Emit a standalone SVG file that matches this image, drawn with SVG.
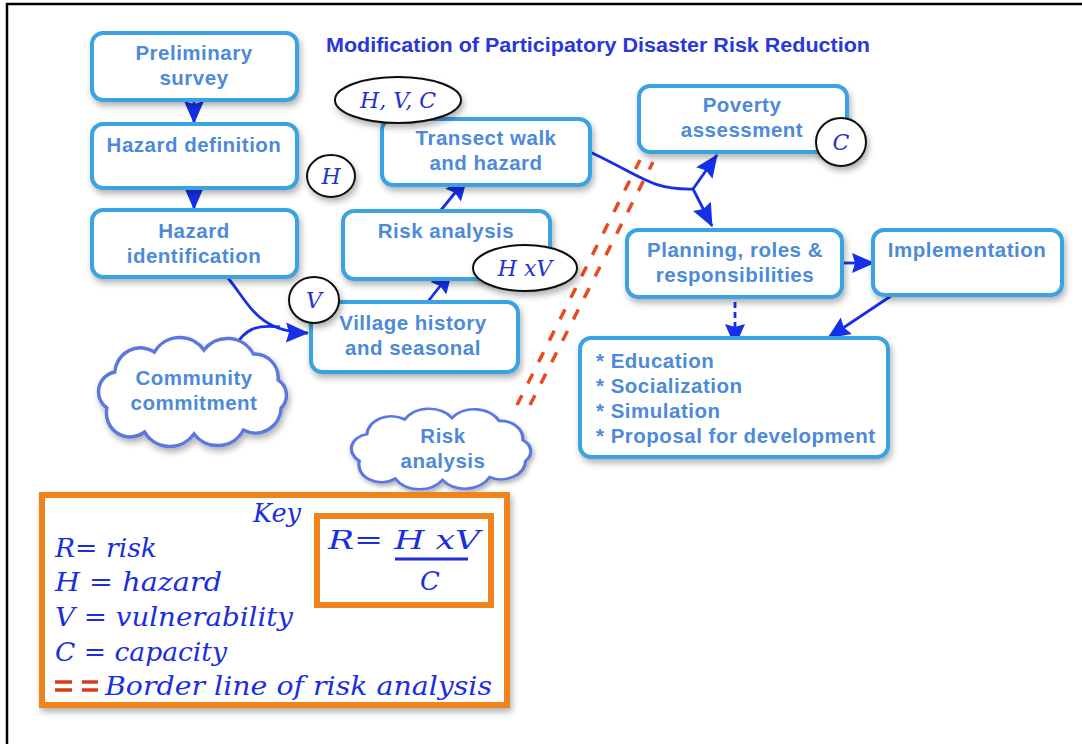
<svg xmlns="http://www.w3.org/2000/svg" width="1082" height="744" viewBox="0 0 1082 744">
<defs>
<filter id="sh" x="-20%" y="-20%" width="140%" height="150%">
<feDropShadow dx="2" dy="4" stdDeviation="3" flood-color="#000" flood-opacity="0.3"/>
</filter>
<marker id="ah" markerUnits="userSpaceOnUse" markerWidth="26" markerHeight="22" refX="22" refY="10" orient="auto" overflow="visible">
<path d="M0,0 L23,10 L0,20 L3,10 z" fill="#1530e8"/>
</marker>
<path id="cloud" d="M20,30 A26,26 0 0 1 60,10 A30,30 0 0 1 110,8 A30,30 0 0 1 160,12 A24,24 0 0 1 185,38 A18,18 0 0 1 188,66 A26,26 0 0 1 150,88 A30,30 0 0 1 100,92 A30,30 0 0 1 50,90 A24,24 0 0 1 12,66 A20,20 0 0 1 20,30 Z"/>
</defs>
<style>
.box{fill:#fff;stroke:#3aa3e2;stroke-width:4;filter:url(#sh)}
.bt{font-family:"Liberation Sans",Arial,sans-serif;font-weight:bold;font-size:20.5px;fill:#4d8ad8;text-anchor:middle;letter-spacing:0.5px}
.lt{text-anchor:start}
.el{fill:#fff;stroke:#111;stroke-width:2;filter:url(#sh)}
.et{font-family:"DejaVu Serif","Liberation Serif",serif;font-style:italic;font-size:22px;fill:#2233cc;text-anchor:middle}
.cl{fill:#fff;stroke:#5a78e0;stroke-width:3.5;filter:url(#sh)}
.ar{fill:none;stroke:#1530e8;stroke-width:2.8;marker-end:url(#ah)}
.rd{fill:none;stroke:#e84a22;stroke-width:3.5;stroke-dasharray:11,13}
.kt{font-family:"DejaVu Serif","Liberation Serif",serif;font-style:italic;font-size:26px;fill:#1a2ee0}
.ob{fill:#fff;stroke:#f0841e;stroke-width:6}
</style>
<rect x="7" y="4" width="1090" height="760" fill="#fff" stroke="#000" stroke-width="2.5"/>

<text x="326" y="52" font-family="'Liberation Sans',Arial,sans-serif" font-weight="bold" font-size="20" fill="#2a38d6" textLength="544" lengthAdjust="spacingAndGlyphs">Modification of Participatory Disaster Risk Reduction</text>

<g id="connectors">
<path class="ar" d="M194,100 L194,123"/>
<path class="ar" d="M194,188 L194,209"/>
<path class="ar" d="M228,278 C250,305 258,332 308,333"/>
<path fill="none" stroke="#1530e8" stroke-width="2.8" d="M235,346 C245,330 255,324 280,327"/>
<path class="ar" d="M437,215 L467,178"/>
<path class="ar" d="M426,304 L452,271"/>
<path fill="none" stroke="#1530e8" stroke-width="2.8" d="M590,152 C640,175 650,190 693,189"/>
<path class="ar" d="M693,189 L717,155"/>
<path class="ar" d="M693,189 L712,226"/>
<path class="ar" d="M842,263 L874,263"/>
<path class="ar" d="M735,292 L735,346" stroke-dasharray="6,4"/>
<path class="ar" d="M891,296 L828,338"/>
<path class="rd" d="M517,405 L640,160"/>
<path class="rd" d="M530,405 L653,162"/>
</g>

<g id="preliminary"><rect class="box" x="92" y="33" width="205" height="67" rx="11"/><text class="bt" x="194" y="60">Preliminary</text><text class="bt" x="194" y="85">survey</text></g>
<g id="hazard-definition"><rect class="box" x="92" y="124" width="205" height="64" rx="11"/><text class="bt" x="194" y="152">Hazard definition</text></g>
<g id="hazard-identification"><rect class="box" x="92" y="210" width="205" height="67" rx="11"/><text class="bt" x="194" y="238">Hazard</text><text class="bt" x="194" y="263">identification</text></g>
<g id="transect"><rect class="box" x="382" y="119" width="208" height="66" rx="11"/><text class="bt" x="486" y="145">Transect walk</text><text class="bt" x="486" y="170">and hazard</text></g>
<g id="risk-analysis-box"><rect class="box" x="343" y="211" width="207" height="68" rx="11"/><text class="bt" x="446" y="238">Risk analysis</text></g>
<g id="village"><rect class="box" x="311" y="302" width="207" height="70" rx="11"/><text class="bt" x="413" y="330">Village history</text><text class="bt" x="413" y="355">and seasonal</text></g>
<g id="community"><use href="#cloud" class="cl" transform="translate(95,342) scale(0.99,1)"/><text class="bt" x="194" y="385">Community</text><text class="bt" x="194" y="410">commitment</text></g>
<g id="risk-cloud"><use href="#cloud" class="cl" transform="translate(348,412) scale(0.945,0.74)"/><text class="bt" x="443" y="443">Risk</text><text class="bt" x="443" y="468">analysis</text></g>
<g id="poverty"><rect class="box" x="639" y="86" width="208" height="66" rx="11"/><text class="bt" x="742" y="112">Poverty</text><text class="bt" x="742" y="137">assessment</text></g>
<g id="planning"><rect class="box" x="627" y="230" width="215" height="67" rx="11"/><text class="bt" x="735" y="257">Planning, roles &amp;</text><text class="bt" x="735" y="282">responsibilities</text></g>
<g id="implementation"><rect class="box" x="873" y="230" width="189" height="65" rx="11"/><text class="bt" x="967" y="257">Implementation</text></g>
<g id="activities"><rect class="box" x="580" y="338" width="308" height="119" rx="11"/><text class="bt lt" x="596" y="368">* Education</text><text class="bt lt" x="596" y="393">* Socialization</text><text class="bt lt" x="596" y="418">* Simulation</text><text class="bt lt" x="596" y="443">* Proposal for development</text></g>

<g id="e-hvc"><ellipse class="el" cx="398" cy="100" rx="63" ry="23"/><text class="et" x="398" y="108">H, V, C</text></g>
<g id="e-h"><ellipse class="el" cx="331" cy="176" rx="24" ry="21"/><text class="et" x="331" y="184">H</text></g>
<g id="e-v"><ellipse class="el" cx="314" cy="300" rx="25" ry="23"/><text class="et" x="314" y="308">V</text></g>
<g id="e-c"><ellipse class="el" cx="841" cy="142" rx="25" ry="24"/><text class="et" x="841" y="150">C</text></g>
<g id="e-hxv"><ellipse class="el" cx="525" cy="268" rx="52" ry="23"/><text class="et" x="525" y="276">H xV</text></g>

<g id="key">
<rect class="ob" x="42" y="495" width="465" height="210" filter="url(#sh)"/>
<text class="kt" x="253" y="522" font-size="23" textLength="48" lengthAdjust="spacingAndGlyphs">Key</text>
<text class="kt" x="55" y="557" textLength="102" lengthAdjust="spacingAndGlyphs">R= risk</text>
<text class="kt" x="55" y="591" textLength="167" lengthAdjust="spacingAndGlyphs">H = hazard</text>
<text class="kt" x="55" y="626" textLength="238" lengthAdjust="spacingAndGlyphs">V = vulnerability</text>
<text class="kt" x="55" y="661" textLength="172" lengthAdjust="spacingAndGlyphs">C = capacity</text>
<path d="M55,682 H72 M55,690 H72 M82,682 H98 M82,690 H98" stroke="#dd3a1a" stroke-width="3.5"/>
<text class="kt" x="105" y="695" textLength="387" lengthAdjust="spacingAndGlyphs">Border line of risk analysis</text>
<rect class="ob" x="317" y="516" width="174" height="89"/>
<text class="kt" x="328" y="549" font-size="31" textLength="152" lengthAdjust="spacingAndGlyphs">R= H xV</text>
<line x1="395" y1="559" x2="468" y2="559" stroke="#1a2ee0" stroke-width="3"/>
<text class="kt" x="430" y="590" font-size="31" text-anchor="middle">C</text>
</g>
</svg>
